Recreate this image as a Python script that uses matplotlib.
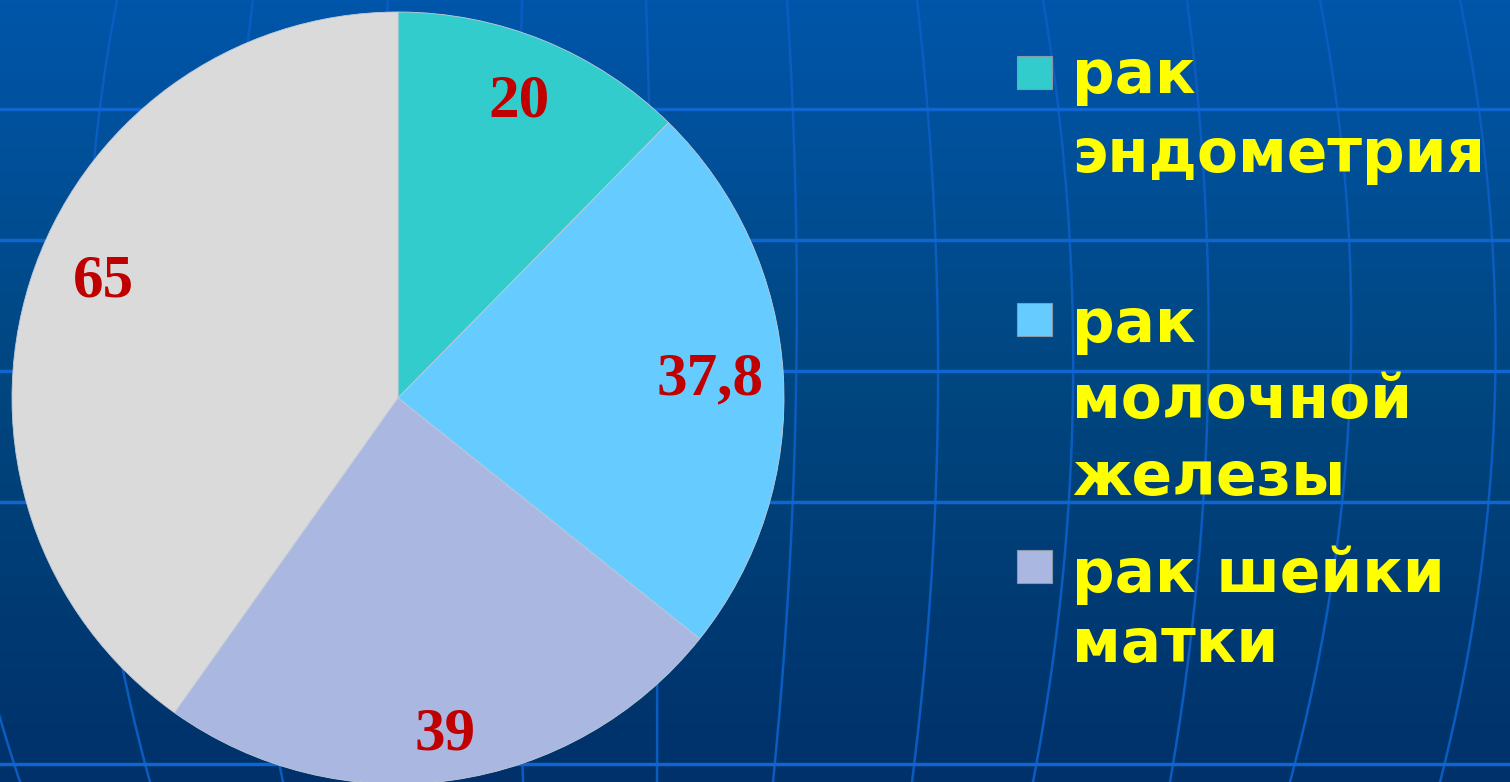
import matplotlib.pyplot as plt
import numpy as np
from matplotlib.colors import LinearSegmentedColormap
from matplotlib.patches import Rectangle

# slice values (clockwise from 12 o'clock) and their printed labels
values = [20, 37.8, 39, 65]
value_labels = ['20', '37,8', '39', '65']
colors = ['#33CCCC', '#66CCFF', '#AAB8E1', '#DADADA']

# legend entries (only the first three slices are listed), one list per entry
legend_lines = [['рак', 'эндометрия'],
                ['рак', 'молочной', 'железы'],
                ['рак шейки', 'матки']]

W, H = 1510, 782
fig = plt.figure(figsize=(W / 100, H / 100), dpi=100)

# background: vertical blue gradient with a globe-like grid
bg = fig.add_axes([0, 0, 1, 1])
cmap = LinearSegmentedColormap.from_list('bg', ['#0056AA', '#00467F', '#00316A'])
bg.imshow(np.linspace(0, 1, 256)[:, None], cmap=cmap, aspect='auto', extent=(0, W, H, 0))
bg.set_xlim(0, W)
bg.set_ylim(H, 0)
bg.axis('off')

meridians = [(-40, -60, 20), (117, 88, 150), (253, 235, 283), (388, 380, 405),
             (522, 518, 523), (646, 655, 657), (787, 796, 773), (917, 938, 912),
             (1043, 1073, 1033), (1187, 1208, 1170), (1320, 1350, 1290), (1460, 1495, 1440)]
yy = np.linspace(0, H, 120)
for xt, xm, xb in meridians:
    coef = np.polyfit([0, H / 2, H], [xt, xm, xb], 2)
    bg.plot(np.polyval(coef, yy), yy, color='#0A5CC0', lw=1.8)
for y in [109, 240, 371, 502, 764]:
    bg.axhline(y, color='#0F66D0', lw=2.5)

# pie: centre (398, 398) px, radius 386 px
R = 386
ax = fig.add_axes([(398 - R) / W, (H - 398 - R) / H, 2 * R / W, 2 * R / H])
wedges, texts = ax.pie(values, colors=colors, startangle=90, counterclock=False,
                       labels=value_labels, labeldistance=0.84,
                       wedgeprops=dict(linewidth=0.6, edgecolor='#C0CCDA'),
                       textprops=dict(family='Liberation Serif', weight='bold',
                                      size=44, color='#C00000'))
# nudge each value label along its wedge's middle angle
label_dist = [0.83, 0.81, 0.88, 0.82]
label_turn = [0, 0, 0, -4]
for w, t, d, dt in zip(wedges, texts, label_dist, label_turn):
    ang = np.deg2rad((w.theta1 + w.theta2) / 2 + dt)
    t.set_position((d * np.cos(ang), d * np.sin(ang)))
    t.set_ha('center')
    t.set_va('center')
ax.set_xlim(-1, 1)
ax.set_ylim(-1, 1)
ax.axis('off')

# legend drawn by hand: square marker plus yellow multi-line text
marker_tops = [56, 303, 550]
baselines = [[93, 172], [342, 418, 495], [592, 662]]
for i, lines in enumerate(legend_lines):
    fig.patches.append(Rectangle((1017 / W, 1 - (marker_tops[i] + 33) / H), 35 / W, 33 / H,
                                 transform=fig.transFigure, facecolor=colors[i],
                                 edgecolor='#8899AA', lw=0.8))
    for line, yb in zip(lines, baselines[i]):
        fig.text(1072 / W, 1 - yb / H, line, color='#FFFF00', family='DejaVu Sans',
                 weight='bold', size=43, va='baseline', ha='left')

fig.savefig('out.png', dpi=100)
